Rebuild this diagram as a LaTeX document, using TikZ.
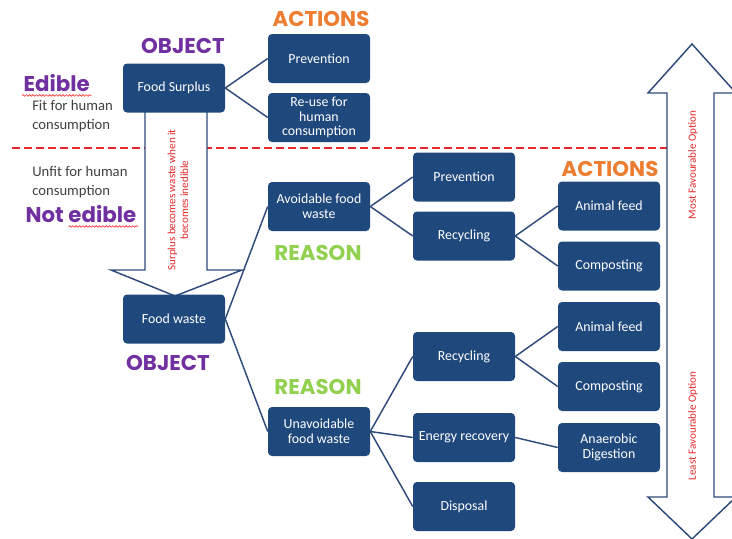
\documentclass[tikz,border=0pt]{standalone}
\usepackage{fontspec}
\setmainfont{Carlito}
\newfontfamily\headfont{Poppins}
\usetikzlibrary{decorations.pathmorphing}

\definecolor{boxblue}{RGB}{31,73,125}
\definecolor{lineblue}{RGB}{47,75,124}
\definecolor{headpurple}{RGB}{112,48,160}
\definecolor{headorange}{RGB}{237,125,49}
\definecolor{headgreen}{RGB}{146,208,80}
\definecolor{notered}{RGB}{230,40,40}
\definecolor{notegrey}{RGB}{64,64,64}

\tikzset{
  wastebox/.style={fill=boxblue, rounded corners=3pt, text=white, minimum width=76.5pt,
    minimum height=36.75pt, align=center, inner sep=2pt, font=\fontsize{10.4}{11}\selectfont},
  heading/.style={inner sep=1pt, font=\headfont\bfseries\fontsize{16}{18}\selectfont},
  note/.style={text=notegrey, align=left, inner sep=0pt, font=\fontsize{11}{14.25}\selectfont},
  rednote/.style={text=notered, align=center, rotate=90, font=\fontsize{8.3}{9.5}\selectfont},
  bigarrow/.style={draw=lineblue, line width=1.1pt, fill=white, line join=miter},
  squiggle/.style={draw=red!80, line width=0.5pt, decorate,
    decoration={snake, amplitude=0.6pt, segment length=2.5pt}},
}

\begin{document}
\begin{tikzpicture}[x=0.75pt, y=0.75pt, grow'=east, level distance=108.75pt, sibling distance=44.25pt,
  level 2/.style={sibling distance=44.25pt}, level 3/.style={sibling distance=45pt},
  every child node/.style={wastebox}, parent anchor=east, child anchor=west,
  edge from parent/.style={draw=lineblue, line width=1.1pt}]
\useasboundingbox (0,0) rectangle (732,-539);

% edible / not edible divide
\draw[notered, line width=1.5pt, dash pattern=on 6pt off 3pt] (12,-148) -- (667,-148);

% big arrows
\draw[bigarrow] (145,-110) -- (145,-270) -- (111,-270) -- (175,-296) -- (242,-270)
  -- (207,-270) -- (207,-110) -- cycle;
\node[rednote] (arrownote) at (178,-200) {Surplus becomes waste when it\\becomes inedible};
\draw[bigarrow] (692,-44) -- (736,-93) -- (714,-93) -- (714,-497) -- (736,-497) -- (692,-539)
  -- (648,-497) -- (667,-497) -- (667,-93) -- (648,-93) -- cycle;
\node[rednote] (mostfav) at (693,-165) {Most Favourable Option};
\node[rednote] (leastfav) at (693,-426) {Least Favourable Option};

% labels
\node[heading, text=headpurple, anchor=west] (edible) at (22,-83) {Edible};
\node[note, anchor=north west] (fitnote) at (32,-100) {Fit for human\\consumption};
\node[note, anchor=north west] (unfitnote) at (32,-166) {Unfit for human\\consumption};
\node[heading, text=headpurple, anchor=west] (notedible) at (24,-214) {Not edible};
\draw[squiggle] ([yshift=-3pt]edible.base west) -- ([yshift=-3pt]edible.base east);
\draw[squiggle] ([xshift=-52pt,yshift=-3pt]notedible.base east) -- ([yshift=-3pt]notedible.base east);

\node[heading, text=headpurple] (objtop) at (183,-46) {OBJECT};
\node[heading, text=headorange] (acttop) at (321,-19) {ACTIONS};
\node[heading, text=headorange] (actmid) at (610,-169) {ACTIONS};
\node[heading, text=headgreen] (reasontop) at (318,-253) {REASON};
\node[heading, text=headgreen] (reasonbot) at (318,-387) {REASON};
\node[heading, text=headpurple] (objbot) at (168,-363) {OBJECT};

% surplus tree
\node[wastebox] (surplus) at (174,-88) {Food Surplus}
  child {node (prevtop) {Prevention}}
  child {node (reuse) {Re-use for\\human\\consumption}};

% waste tree
\node[wastebox] (waste) at (174,-319) {Food waste}
  child[sibling distance=168.75pt] {node (avoid) {Avoidable food\\waste}
    child {node (prevmid) {Prevention}}
    child {node (recycleA) {Recycling}
      child {node (feedA) {Animal feed}}
      child {node (compostA) {Composting}}
    }
  }
  child[sibling distance=168.75pt] {node (unavoid) {Unavoidable\\food waste}
    child[sibling distance=56.25pt] {node (recycleB) {Recycling}
      child {node (feedB) {Animal feed}}
      child {node (compostB) {Composting}}
    }
    child[sibling distance=56.25pt] {node[yshift=-4.5pt] (energy) {Energy recovery}
      child {node[yshift=-7.5pt] (anaerobic) {Anaerobic\\Digestion}}
    }
    child[sibling distance=56.25pt] {node (disposal) {Disposal}}
  };
\end{tikzpicture}
\end{document}
